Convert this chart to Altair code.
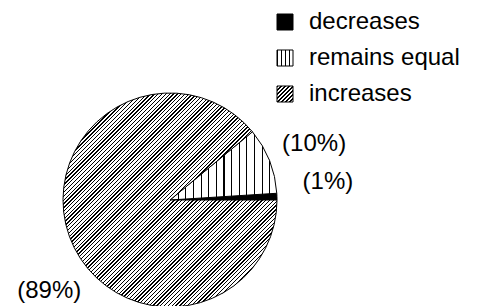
import math
import altair as alt
import pandas as pd

# ---- data ----
categories = ["decreases", "remains equal", "increases"]
percent = [1, 10, 89]
labels = ["(1%)", "(10%)", "(89%)"]
# drawing order, clockwise from 3 o'clock
pie_order = [3, 2, 1]

df = pd.DataFrame({"category": categories, "percent": percent,
                   "label": labels, "order": pie_order})

CX, CY, R = 162, 192, 107
FONT = "Liberation Sans"
FS = 24


def stripes(n, duty, x2, y2):
    stops = []
    for i in range(n):
        a = i / n
        b = (i + duty) / n
        c = (i + 1) / n
        stops += [{"offset": a, "color": "black"}, {"offset": b, "color": "black"},
                  {"offset": b, "color": "white"}, {"offset": c, "color": "white"}]
    return {"gradient": "linear", "x1": 0, "y1": 0, "x2": x2, "y2": y2, "stops": stops}


pie_fill = {"decreases": "black",
            "remains equal": stripes(14, 0.16, 1, 0),
            "increases": stripes(112, 0.36, 1, 1)}
legend_fill = {"decreases": "black",
               "remains equal": stripes(4, 0.22, 1, 0),
               "increases": stripes(8, 0.4, 1, 1)}

theta_scale = alt.Scale(domain=[0, 100], range=[math.pi / 2, math.pi / 2 + 2 * math.pi])

base = alt.Chart(df).transform_window(
    end="sum(percent)", sort=[alt.SortField("order")]
).transform_calculate(
    start="datum.end - datum.percent", mid="datum.end - datum.percent / 2"
)

layers = []
for cat in categories:
    layers.append(
        base.transform_filter(alt.datum.category == cat)
        .mark_arc(radius=R, fill=pie_fill[cat], stroke="black", strokeWidth=1)
        .encode(theta=alt.Theta("start:Q", scale=theta_scale, stack=False),
                theta2="end:Q", x=alt.value(CX), y=alt.value(CY))
    )

label_style = {"(1%)": dict(radius=158, dx=0, dy=-13),
               "(10%)": dict(radius=155, dx=0, dy=1),
               "(89%)": dict(radius=140, dx=11, dy=44)}
for lab in labels:
    st = label_style[lab]
    layers.append(
        base.transform_filter(alt.datum.label == lab)
        .mark_text(font=FONT, fontSize=FS, align="center", baseline="middle",
                   radius=st["radius"], dx=st["dx"], dy=st["dy"], color="black")
        .encode(theta=alt.Theta("mid:Q", scale=theta_scale, stack=False),
                text="label:N", x=alt.value(CX), y=alt.value(CY))
    )

legend_y = alt.Y("category:N", axis=None,
                 scale=alt.Scale(type="point", domain=categories,
                                 range=[14, 86], padding=0))
for cat in categories:
    layers.append(
        alt.Chart(df).transform_filter(alt.datum.category == cat)
        .mark_square(size=256, fill=legend_fill[cat], stroke="black",
                     strokeWidth=1, opacity=1)
        .encode(x=alt.value(277), y=legend_y)
    )
layers.append(
    alt.Chart(df).mark_text(font=FONT, fontSize=FS, align="left",
                            baseline="middle", color="black")
    .encode(x=alt.value(301), y=legend_y, text="category:N")
)

chart = alt.layer(*layers).properties(
    width=462, height=298, padding=0,
    autosize=alt.AutoSizeParams(type="none"),
).configure_view(stroke=None)

chart.save("out.html", embed_options={"renderer": "svg", "actions": False})
